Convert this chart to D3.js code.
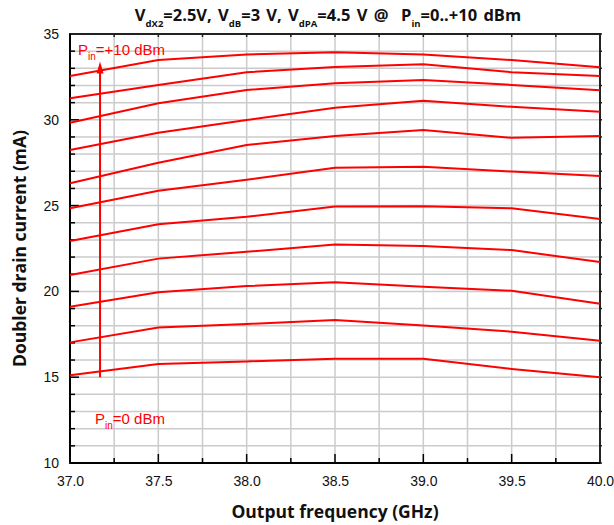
<!DOCTYPE html>
<html>
<head>
<meta charset="utf-8">
<script src="https://cdn.jsdelivr.net/npm/d3@7/dist/d3.min.js"></script>
<style>
  html, body { margin: 0; padding: 0; background: #fff; }
  svg { display: block; }
  text { white-space: pre; }
</style>
</head>
<body>
<svg id="chart" width="614" height="525"></svg>
<script>
// ---- data ----
const freqs = [37.0, 37.5, 38.0, 38.5, 39.0, 39.5, 40.0];
const pin0  = [15.12, 15.77, 15.92, 16.08, 16.07, 15.48, 15.00];
const pin1  = [17.03, 17.89, 18.10, 18.33, 18.02, 17.65, 17.13];
const pin2  = [19.11, 19.95, 20.31, 20.54, 20.27, 20.04, 19.28];
const pin3  = [20.96, 21.91, 22.31, 22.73, 22.64, 22.41, 21.71];
const pin4  = [22.94, 23.91, 24.35, 24.95, 24.96, 24.84, 24.22];
const pin5  = [24.84, 25.87, 26.50, 27.21, 27.27, 26.98, 26.73];
const pin6  = [26.30, 27.50, 28.53, 29.06, 29.41, 28.95, 29.06];
const pin7  = [28.24, 29.25, 29.99, 30.70, 31.11, 30.76, 30.47];
const pin8  = [29.83, 30.96, 31.74, 32.13, 32.32, 32.03, 31.72];
const pin9  = [31.25, 32.03, 32.77, 33.07, 33.23, 32.77, 32.55];
const pin10 = [32.55, 33.48, 33.81, 33.93, 33.81, 33.48, 33.06];
const series = [pin0, pin1, pin2, pin3, pin4, pin5, pin6, pin7, pin8, pin9, pin10];
const xTicks = [37.0, 37.5, 38.0, 38.5, 39.0, 39.5, 40.0];
const yTicks = [10, 15, 20, 25, 30, 35];
const arrowFreq = 37.17, arrowFrom = 15.0, arrowTo = 33.4;

// ---- layout ----
const svg = d3.select("#chart");
const m = { left: 70, right: 14, top: 34, bottom: 62 };
const W = 614, H = 525;
const x = d3.scaleLinear().domain([37, 40]).range([m.left, W - m.right]);
const y = d3.scaleLinear().domain([10, 35]).range([H - m.bottom, m.top]);
const tickFont = "'Liberation Sans', Arial, sans-serif";
const boldFont = "'Open Sans', 'Noto Sans', sans-serif";

// grid
const g = svg.append("g");
g.selectAll("line.vg").data(d3.range(37.25, 40, 0.25)).join("line")
  .attr("x1", d => x(d)).attr("x2", d => x(d)).attr("y1", y(10)).attr("y2", y(35))
  .attr("stroke", "#cbcbcb").attr("stroke-width", 1.5);
g.selectAll("line.hg").data(d3.range(11, 35, 1)).join("line")
  .attr("y1", d => y(d)).attr("y2", d => y(d)).attr("x1", x(37)).attr("x2", x(40))
  .attr("stroke", "#cbcbcb").attr("stroke-width", 1.5);

// ticks
const minorX = d3.range(37, 40.001, 0.25);
const minorY = d3.range(10, 35.001, 1);
svg.append("g").selectAll("line").data(minorX).join("line")
  .attr("x1", d => x(d)).attr("x2", d => x(d))
  .attr("y1", y(10)).attr("y2", d => y(10) - (Math.abs(d * 2 - Math.round(d * 2)) < 1e-6 ? 9 : 5))
  .attr("stroke", "#000").attr("stroke-width", 1.5);
svg.append("g").selectAll("line").data(minorY).join("line")
  .attr("y1", d => y(d)).attr("y2", d => y(d))
  .attr("x1", x(37)).attr("x2", d => x(37) + (d % 5 === 0 ? 9 : 5))
  .attr("stroke", "#000").attr("stroke-width", 1.5);
svg.append("g").selectAll("line").data(minorX).join("line")
  .attr("x1", d => x(d)).attr("x2", d => x(d)).attr("y1", y(35)).attr("y2", y(35) + 3)
  .attr("stroke", "#222").attr("stroke-width", 1.5);
svg.append("g").selectAll("line").data(minorY).join("line")
  .attr("y1", d => y(d)).attr("y2", d => y(d)).attr("x1", x(40)).attr("x2", x(40) + 2)
  .attr("stroke", "#222").attr("stroke-width", 1.5);

// tick labels via d3 axes
const xa = svg.append("g").attr("transform", `translate(0,${y(10)})`)
  .call(d3.axisBottom(x).tickValues(xTicks).tickFormat(d3.format(".1f")).tickSize(0).tickPadding(13));
xa.select(".domain").remove();
xa.selectAll("text").attr("font-family", tickFont).attr("font-size", 14).attr("fill", "#111");
const ya = svg.append("g").attr("transform", `translate(${x(37)},0)`)
  .call(d3.axisLeft(y).tickValues(yTicks).tickFormat(d3.format("d")).tickSize(0).tickPadding(11));
ya.select(".domain").remove();
ya.selectAll("text").attr("font-family", tickFont).attr("font-size", 14).attr("fill", "#111");

// frame
svg.append("rect").attr("x", x(37)).attr("y", y(35)).attr("width", x(40) - x(37)).attr("height", y(10) - y(35))
  .attr("fill", "none").attr("stroke", "#222").attr("stroke-width", 2);
svg.append("line").attr("x1", x(37)).attr("x2", x(37)).attr("y1", y(35)).attr("y2", y(10)).attr("stroke", "#000").attr("stroke-width", 2);
svg.append("line").attr("x1", x(37)).attr("x2", x(40)).attr("y1", y(10)).attr("y2", y(10)).attr("stroke", "#000").attr("stroke-width", 2);

// lines
const line = d3.line().x((d, i) => x(freqs[i])).y(d => y(d));
svg.append("g").selectAll("path").data(series).join("path")
  .attr("d", line).attr("fill", "none").attr("stroke", "#ff0000").attr("stroke-width", 2);

// arrow
const ax = x(arrowFreq);
svg.append("line").attr("x1", ax).attr("x2", ax).attr("y1", y(arrowFrom)).attr("y2", y(arrowTo) + 8)
  .attr("stroke", "#ff0000").attr("stroke-width", 2);
svg.append("path")
  .attr("d", `M${ax},${y(arrowTo)} L${ax - 3.5},${y(arrowTo) + 12} L${ax + 3.5},${y(arrowTo) + 12} Z`)
  .attr("fill", "#ff0000");

// text with subscripts
function subText(parent, xp, yp, parts, opts) {
  const t = parent.append("text").attr("x", xp).attr("y", yp)
    .attr("font-family", opts.family).attr("font-size", opts.size)
    .attr("font-weight", opts.weight || "normal").attr("fill", opts.fill)
    .attr("text-anchor", opts.anchor || "start");
  if (opts.wordSpacing) t.attr("word-spacing", opts.wordSpacing);
  let lowered = false;
  parts.forEach(p => {
    const s = t.append("tspan").text(p.t);
    if (p.sub) {
      s.attr("font-size", opts.subSize).attr("dy", lowered ? 0 : opts.subDy);
      lowered = true;
    } else if (lowered) {
      s.attr("dy", -opts.subDy); lowered = false;
    }
  });
  return t;
}

subText(svg, 78, 55, [{t: "P"}, {t: "in", sub: true}, {t: "=+10 dBm"}],
  {family: tickFont, size: 15, subSize: 10, subDy: 5, fill: "#ff0000"});
subText(svg, 95, 424, [{t: "P"}, {t: "in", sub: true}, {t: "=0 dBm"}],
  {family: tickFont, size: 15, subSize: 10, subDy: 5, fill: "#ff0000"});

// title
subText(svg, 328, 21, [
  {t: "V"}, {t: "dX2", sub: true}, {t: "=2.5V, V"}, {t: "dB", sub: true}, {t: "=3 V, V"},
  {t: "dPA", sub: true}, {t: "=4.5 V @  P"}, {t: "in", sub: true}, {t: "=0..+10 dBm"}
], {family: boldFont, size: 16.5, subSize: 9.5, subDy: 6, fill: "#111", weight: "bold", anchor: "middle", wordSpacing: 2});

// axis titles
svg.append("text").attr("x", (x(37) + x(40)) / 2).attr("y", 518).attr("text-anchor", "middle")
  .attr("font-family", boldFont).attr("font-weight", "bold").attr("font-size", 17.5).attr("fill", "#111")
  .text("Output frequency (GHz)");
svg.append("text").attr("transform", `translate(26,${(y(10) + y(35)) / 2}) rotate(-90)`)
  .attr("text-anchor", "middle")
  .attr("font-family", boldFont).attr("font-weight", "bold").attr("font-size", 17.5).attr("fill", "#111")
  .text("Doubler drain current (mA)");
</script>
</body>
</html>
